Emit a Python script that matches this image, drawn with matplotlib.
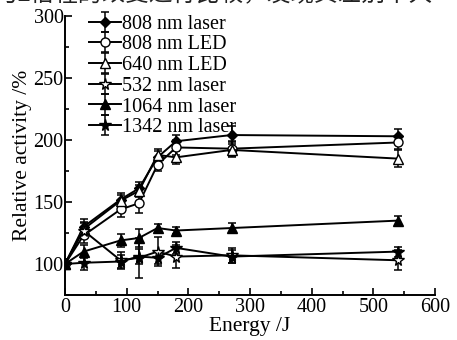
import matplotlib
matplotlib.use("Agg")
import matplotlib.pyplot as plt
from matplotlib.ticker import MultipleLocator

energy = [0, 30, 90, 120, 150, 180, 270, 540]
laser808 = [100, 130, 152, 161, 186, 199, 204, 203]
led808 = [100, 123, 144, 149, 180, 194, 193, 198]
led640 = [100, 128, 151, 159, 188, 186, 192, 185]
laser532 = [100, 127, 103, 105, 110, 106, 107, 103]
laser1064 = [100, 110, 119, 121, 129, 127, 129, 135]
laser1342 = [100, 101, 102, 106, 105, 113, 106, 110]

err808 = [4, 6, 5, 5, 5, 5, 7, 6]
errled808 = [4, 6, 6, 8, 5, 6, 6, 5]
errled640 = [4, 6, 5, 5, 5, 5, 6, 7]
err532 = [4, 6, 7, 16, 12, 9, 6, 8]
err1064 = [4, 5, 5, 7, 3, 3, 4, 4]
err1342 = [4, 6, 5, 6, 5, 5, 5, 4]

labels = ["808 nm laser", "808 nm LED", "640 nm LED", "532 nm laser",
          "1064 nm laser", "1342 nm laser"]
series = [laser808, led808, led640, laser532, laser1064, laser1342]
errs = [err808, errled808, errled640, err532, err1064, err1342]
markers = ["D", "o", "^", "*", "^", "*"]
faces = ["black", "white", "white", "white", "black", "black"]
sizes = [5.5, 6.5, 7.5, 8.5, 7.5, 8.5]

plt.rcParams['font.family'] = ['Liberation Serif', 'DejaVu Serif']

fig = plt.figure(figsize=(4.57, 3.4), dpi=100)
ax = fig.add_axes([65/457, 1-295/340, 370/457, 279/340])

for y, e, lab, m, fc, ms in zip(series, errs, labels, markers, faces, sizes):
    ax.errorbar(energy, y, yerr=e, label=lab, color="black", marker=m,
                markerfacecolor=fc, markeredgecolor="black", markersize=ms,
                linewidth=1.4, elinewidth=1.1, capsize=3, capthick=1.1)

ax.set_xlim(0, 600)
ax.set_ylim(75, 300)
ax.xaxis.set_major_locator(MultipleLocator(100))
ax.xaxis.set_minor_locator(MultipleLocator(50))
ax.yaxis.set_minor_locator(MultipleLocator(25))
ax.set_yticks([100, 150, 200, 250, 300])
ax.tick_params(which="both", direction="in", width=1.2, labelsize=14.5)
ax.tick_params(which="major", length=5)
ax.tick_params(which="minor", length=3)
ax.tick_params(axis="x", pad=2)
ax.tick_params(axis="y", pad=1)
for s in ["top", "right"]:
    ax.spines[s].set_visible(False)
for s in ["left", "bottom"]:
    ax.spines[s].set_linewidth(1.4)

ax.set_xlabel("Energy /J", fontsize=15.5, labelpad=0)
ax.set_ylabel("Relative activity /%", fontsize=15.5, labelpad=1)

leg = ax.legend(loc="upper left", bbox_to_anchor=(0.065, 1.005), frameon=False,
                fontsize=14.5, handlelength=1.6, handletextpad=0.05,
                labelspacing=0.08, borderaxespad=0.0, borderpad=0.0)

fig.text(-0.012, 1.0 + 5/340, "与2倍程的改变进行比较，发现其差别不大",
         family=['Noto Sans CJK SC', 'DejaVu Sans'], fontsize=17,
         va="center", ha="left", color="#222222")

fig.savefig("out.png", dpi=100)
